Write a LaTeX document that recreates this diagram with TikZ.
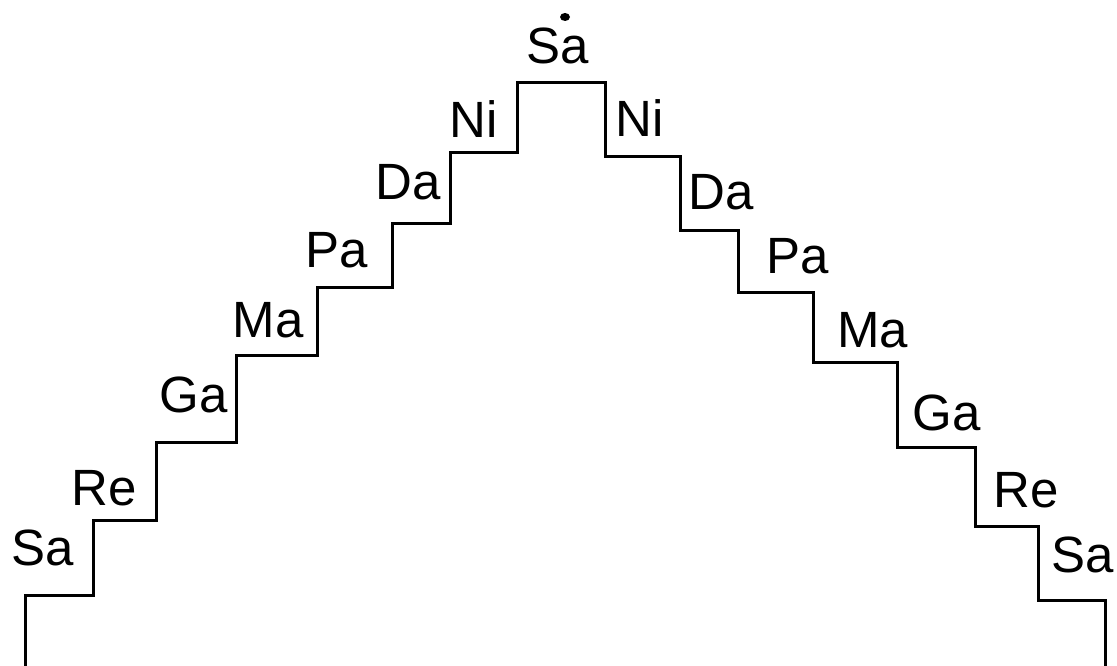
\documentclass[tikz,border=0pt]{standalone}
\usepackage{fontspec}
\setmainfont{Liberation Sans}
\begin{document}
\begin{tikzpicture}[x=1pt,y=-1pt,
  stair/.style={draw=black,line width=3pt,line join=miter},
  swara/.style={anchor=base,inner sep=0pt,font=\fontsize{51}{60}\selectfont}]
\useasboundingbox[fill=white] (0,0) rectangle (1117,666);
% staircase
\draw[stair] (25,666) |- (93,595) |- (156,520) |- (236,442) |- (317,355)
  |- (392,287) |- (450,223) |- (517,153) |- (605,83)
  -- (605,157) -| (680,230) -| (738,292) -| (813,362) -| (897,447)
  -| (975,526) -| (1038,600) -| (1105,666);
% left labels (ascending)
\node[swara] (lsa) at (42.5,565) {Sa};
\node[swara] (lre) at (104.5,505) {Re};
\node[swara] (lga) at (194,412) {Ga};
\node[swara] (lma) at (268,337) {Ma};
\node[swara] (lpa) at (337,267) {Pa};
\node[swara] (lda) at (408.5,200) {Da};
\node[swara] (lni) at (473.5,138) {Ni};
\node[swara] (tsa) at (557.5,64) {Sa};
\fill (565,17) ellipse (5pt and 4pt);
% right labels (descending)
\node[swara] (rni) at (640,137) {Ni};
\node[swara] (rda) at (721.5,210) {Da};
\node[swara] (rpa) at (797.5,273) {Pa};
\node[swara] (rma) at (872.5,347) {Ma};
\node[swara] (rga) at (947,430) {Ga};
\node[swara] (rre) at (1026.5,507) {Re};
\node[swara] (rsa) at (1082.5,572) {Sa};
\end{tikzpicture}
\end{document}
